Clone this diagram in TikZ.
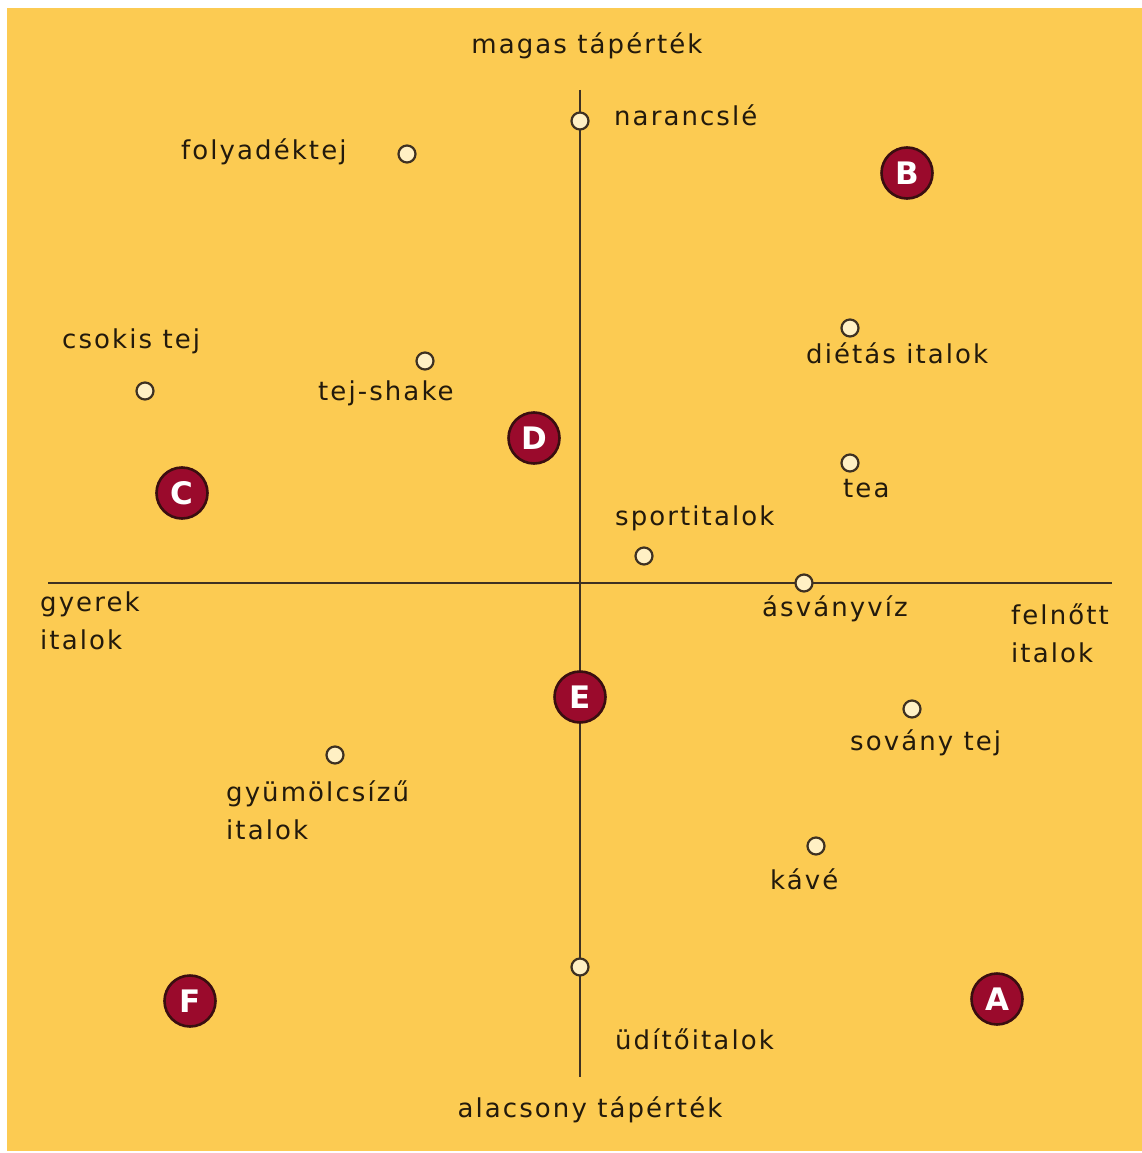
\documentclass[tikz,border=0pt]{standalone}
\usepackage{fontspec}
\setmainfont{DejaVu Sans}[LetterSpace=8]
\newfontfamily\badgefont{DejaVu Sans}[BoldFont={DejaVu Sans Bold}]
\definecolor{bgyellow}{HTML}{FCCB52}
\definecolor{inkbrown}{HTML}{231A0C}
\definecolor{axisbrown}{HTML}{3E3122}
\definecolor{dotfill}{HTML}{FFF0C4}
\definecolor{badgered}{HTML}{9A0A2C}
\definecolor{badgeedge}{HTML}{3A0E10}
\tikzset{
  axisline/.style={draw=axisbrown, line width=2.6pt},
  dot/.style={circle, draw=axisbrown, fill=dotfill, line width=2.2pt, minimum size=17pt, inner sep=0pt},
  badge/.style={circle, draw=badgeedge, fill=badgered, line width=2.6pt, minimum size=51pt, inner sep=0pt,
    text=white, font=\badgefont\bfseries\fontsize{31}{31}\selectfont},
  lbl/.style={inner sep=0pt, anchor=base west, text=inkbrown, font=\fontsize{26}{38}\selectfont, align=left},
  title/.style={inner sep=0pt, anchor=base, text=inkbrown, font=\fontsize{26}{38}\selectfont}
}
\begin{document}
\begin{tikzpicture}[x=1pt, y=-1pt]
  \useasboundingbox (0,0) rectangle (1142,1153);
  % background panel
  \fill[bgyellow] (7,8) rectangle (1142,1151);

  % axes
  \coordinate (vtop) at (580,90);
  \coordinate (vbot) at (580,1077);
  \coordinate (hleft) at (48,583);
  \coordinate (hright) at (1112,583);
  \draw[axisline] (vtop) -- (vbot);
  \draw[axisline] (hleft) -- (hright);

  % axis captions (two-line captions sit on the baseline of their last line)
  \node[title] (capTop) at (587,54) {magas tápérték};
  \node[title] (capBot) at (590,1117) {alacsony tápérték};
  \node[lbl] (capLeft) at (40,649) {gyerek\\italok};
  \node[lbl] (capRight) at (1011,662) {felnőtt\\italok};

  % products
  \node[dot] (pNaranc) at (580,121) {};
  \node[lbl] (tNaranc) at (614,125) {narancslé};
  \node[dot] (pFolyad) at (407,154) {};
  \node[lbl] (tFolyad) at (181,159) {folyadéktej};
  \node[dot] (pDietas) at (850,328) {};
  \node[lbl] (tDietas) at (806,363) {diétás italok};
  \node[dot] (pShake) at (425,361) {};
  \node[lbl] (tShake) at (318,400) {tej-shake};
  \node[dot] (pCsokis) at (145,391) {};
  \node[lbl] (tCsokis) at (62,348) {csokis tej};
  \node[dot] (pTea) at (850,463) {};
  \node[lbl] (tTea) at (843,497) {tea};
  \node[dot] (pSport) at (644,556) {};
  \node[lbl] (tSport) at (615,525) {sportitalok};
  \node[dot] (pAsvany) at (804,583) {};
  \node[lbl] (tAsvany) at (762,616) {ásványvíz};
  \node[dot] (pSovany) at (912,709) {};
  \node[lbl] (tSovany) at (850,750) {sovány tej};
  \node[dot] (pGyum) at (335,755) {};
  \node[lbl] (tGyum) at (226,839) {gyümölcsízű\\italok};
  \node[dot] (pKave) at (816,846) {};
  \node[lbl] (tKave) at (770,889) {kávé};
  \node[dot] (pUdito) at (580,967) {};
  \node[lbl] (tUdito) at (615,1049) {üdítőitalok};

  % segment badges
  \node[badge] (bA) at (997,999) {A};
  \node[badge] (bB) at (907,173) {B};
  \node[badge] (bC) at (182,493) {C};
  \node[badge] (bD) at (534,438) {D};
  \node[badge] (bE) at (580,697) {E};
  \node[badge] (bF) at (190,1001) {F};
\end{tikzpicture}
\end{document}
